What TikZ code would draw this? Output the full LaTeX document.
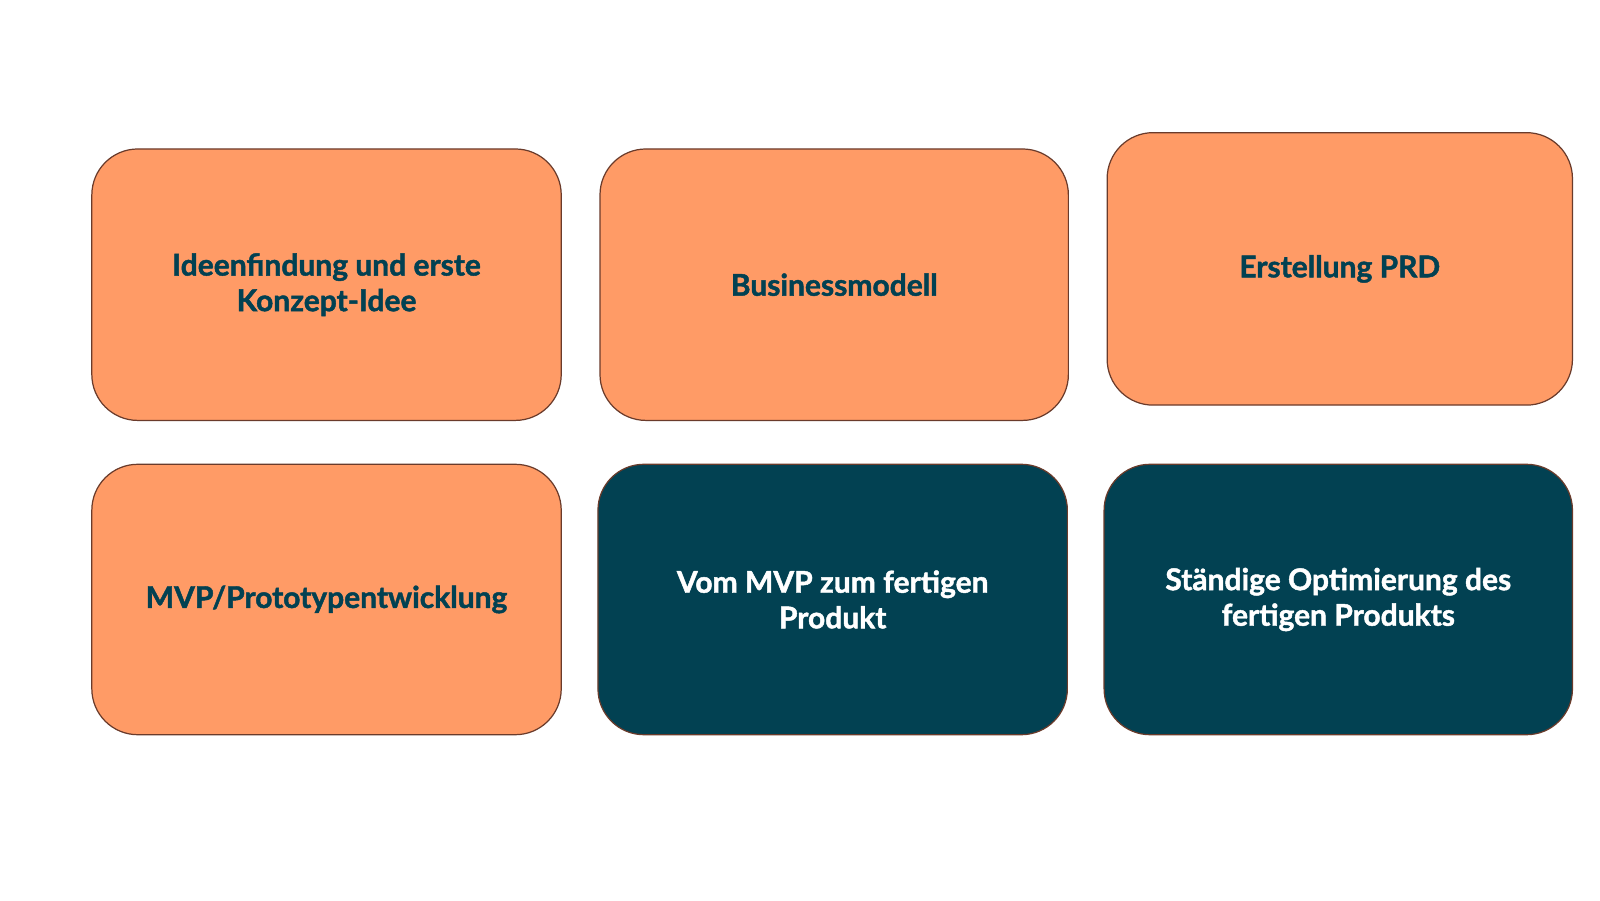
\documentclass[tikz,border=0pt]{standalone}
\usepackage{fontspec}
\setmainfont{Lato}[FakeBold=1.5]
\definecolor{boxorange}{HTML}{FF9B66}
\definecolor{boxteal}{HTML}{024152}
\definecolor{boxedge}{HTML}{6A3B2B}
\begin{document}
\begin{tikzpicture}[x=1bp,y=-1bp,
    phase/.style={draw=boxedge, line width=1.2bp, rounded corners=45bp, align=center,
      font=\fontsize{29.5}{35}\selectfont\bfseries, inner sep=0pt},
    early/.style={phase, fill=boxorange, text=boxteal},
    late/.style={phase, fill=boxteal, text=white}]
  \useasboundingbox (0,0) rectangle (1568,882);
  % first row
  \node[early, minimum width=460bp, minimum height=266bp] (idee) at (320,279) {Ideenfindung und erste\\Konzept-Idee};
  \node[early, minimum width=459bp, minimum height=266bp] (business) at (817.5,279) {Businessmodell};
  \node[early, minimum width=456bp, minimum height=267bp] (prd) at (1313,263.5) {Erstellung PRD};
  % second row
  \node[early, minimum width=460bp, minimum height=265bp] (mvp) at (320,587.5) {MVP/Prototypentwicklung};
  \node[late, minimum width=460bp, minimum height=265bp] (produkt) at (816,587.5) {Vom MVP zum fertigen\\Produkt};
  \node[late, minimum width=459bp, minimum height=265bp] (optimierung) at (1311.5,587.5) {Ständige Optimierung des\\fertigen Produkts};
\end{tikzpicture}
\end{document}
